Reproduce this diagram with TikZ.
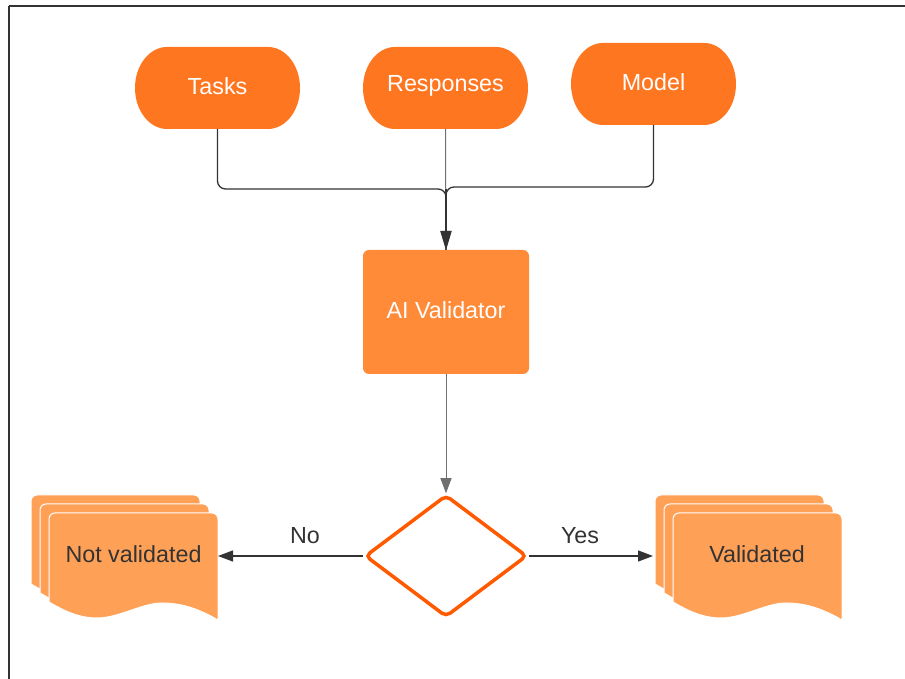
\documentclass[tikz,border=0pt]{standalone}
\usepackage{fontspec}
\setmainfont{Liberation Sans}
\usetikzlibrary{shapes.geometric,arrows.meta}
\definecolor{topor}{HTML}{FF7621}
\definecolor{valor}{HTML}{FF8A38}
\definecolor{docor}{HTML}{FFA057}
\definecolor{diaor}{HTML}{FF5A00}
\definecolor{ink}{HTML}{333333}
\newcommand\stadiumshape[2]{\fill[topor,shift={(#1,#2)}] (-50.5,41) -- (50.5,41) arc[start angle=90,end angle=-90,x radius=32,y radius=41] -- (-50.5,-41) arc[start angle=270,end angle=90,x radius=32,y radius=41] -- cycle;}
\newcommand\docshape[2]{\filldraw[docor,draw=white,line width=1,shift={(#1,#2)}] (0,-89) -- (0,-6) arc[start angle=180,end angle=90,radius=6] -- (163,0) arc[start angle=90,end angle=0,radius=6] -- (169,-107) .. controls (150,-96) and (133,-90) .. (113,-90) .. controls (93,-90) and (70,-105) .. (48,-105) .. controls (28,-105) and (12,-96) .. (0,-89) -- cycle;}
\tikzset{
  lbl/.style={font=\fontsize{23.3}{27}\selectfont},
  topbox/.style={lbl,text=white,minimum width=165,minimum height=82,inner sep=0,outer sep=0},
  valbox/.style={lbl,text=white,fill=valor,rounded corners=6,minimum width=166,minimum height=124,inner sep=0,outer sep=0},
  docbox/.style={lbl,text=ink,minimum width=169,minimum height=106,inner sep=0,outer sep=0},
  decide/.style={diamond,draw=diaor,line width=3.5,fill=white,rounded corners=5,minimum width=162,minimum height=122,inner sep=0},
  conn/.style={draw=ink,line width=1.3},
  thin/.style={draw=ink!70,line width=1},
  tip/.style={-{Triangle[length=15pt,width=11pt]}},
  bigtip/.style={-{Triangle[length=19pt,width=11pt]}},
}
\begin{document}
\begin{tikzpicture}[x=1pt,y=1pt]
\useasboundingbox (0,0) rectangle (905,679);
\draw[ink,line width=1.3] (9,0) -- (9,672.5);
\draw[ink,line width=2] (8.5,672.5) -- (905,672.5);
% top boxes
\stadiumshape{217.5}{591}
\node[topbox] (tasks) at (217.5,593) {Tasks};
\stadiumshape{445.5}{591}
\node[topbox] (resp) at (445.5,593) {Responses};
\stadiumshape{653.5}{595}
\node[topbox] (model) at (653.5,597) {Model};
% validator
\node[valbox] (val) at (446,367) {\raisebox{3pt}{AI Validator}};
% connectors into validator
\coordinate (busT) at (0,490);
\coordinate (busM) at (0,492);
\draw[conn,rounded corners=8] ([yshift=-2pt]tasks.south) -- (tasks.south |- busT) -- (val.north |- busT) -- (val.north);
\draw[conn,rounded corners=8] ([yshift=-2pt]model.south) -- (model.south |- busM) -- (val.north |- busM) -- (val.north);
\draw[thin,bigtip] ([yshift=-2pt]resp.south) -- (val.north);
\draw[conn,bigtip] (val.north |- busT) -- (val.north);
% decision
\node[decide] (dia) at (446,123) {};
\draw[thin,tip] (val.south) -- (dia.north);
% documents
\docshape{31}{184}
\docshape{40}{175}
\docshape{49}{166}
\node[docbox] (nv) at (133.5,113) {};
\node[lbl,text=ink] (nvt) at (133.5,125) {Not validated};
\docshape{655}{184}
\docshape{664}{175}
\docshape{673}{166}
\node[docbox] (vd) at (757.5,113) {};
\node[lbl,text=ink] (vdt) at (757,125) {Validated};
% outputs
\draw[conn,tip] (dia.west) -- (nv.east |- dia.west);
\node[lbl,text=ink] (no) at (305,143) {No};
\draw[conn,tip] (dia.east) -- ([xshift=-20pt]vd.west |- dia.east);
\node[lbl,text=ink] (yes) at (580,143) {Yes};
\end{tikzpicture}
\end{document}
